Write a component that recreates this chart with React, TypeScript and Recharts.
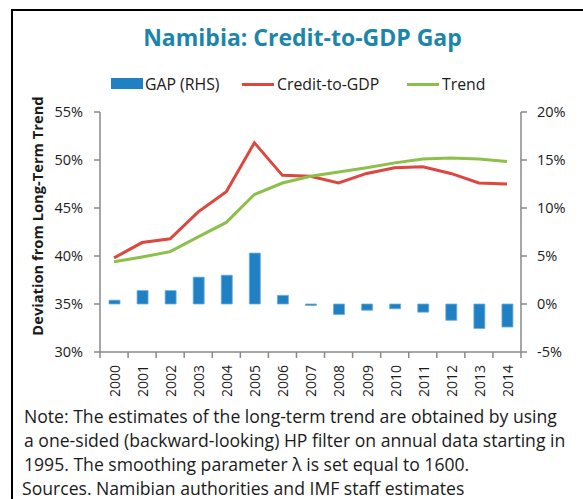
import React from 'react'
import { ComposedChart, Bar, Line, XAxis, YAxis, Cell } from 'recharts'

const years = ['2000', '2001', '2002', '2003', '2004', '2005', '2006', '2007', '2008', '2009', '2010', '2011', '2012', '2013', '2014']
const creditToGdp = [39.8, 41.4, 41.8, 44.6, 46.7, 51.8, 48.4, 48.3, 47.6, 48.6, 49.2, 49.3, 48.6, 47.6, 47.5]
const trend = [39.4, 39.9, 40.45, 42.0, 43.5, 46.4, 47.6, 48.3, 48.75, 49.2, 49.7, 50.1, 50.2, 50.1, 49.85]
const gap = [0.4, 1.4, 1.4, 2.8, 3.0, 5.3, 0.9, -0.15, -1.1, -0.65, -0.5, -0.85, -1.7, -2.55, -2.4]
const leftTicks = [30, 35, 40, 45, 50, 55]
const rightTicks = [-5, 0, 5, 10, 15, 20]
const noteLines = [
  'Note: The estimates of the long-term trend are obtained by using',
  'a one-sided (backward-looking) HP filter on annual data starting in',
  '1995. The smoothing parameter \u03bb is set equal to 1600.',
]
const sourceLine = 'Sources. Namibian authorities and IMF staff estimates'

const data = years.map((y, i) => ({ year: y, credit: creditToGdp[i], trend: trend[i], gap: gap[i] }))

const FONT = '"Open Sans", "Noto Sans", sans-serif'
const AXIS = '#898989'
const RED = '#DC4740'
const GREEN = '#8CC04A'
const BLUE = '#2080C4'
const INK = '#1a1a1a'

const W = 583
const PLOT_L = 100
const PLOT_R = 521
const BAND = (PLOT_R - PLOT_L) / years.length

const YearTick = (props: any) => {
  const { x, y, payload, index } = props
  const half = BAND / 2
  const ly = y + 13
  return (
    <g>
      <line x1={x - half} x2={x - half} y1={y} y2={y + 6} stroke={AXIS} strokeWidth={1.5} />
      {index === years.length - 1 && (
        <line x1={x + half} x2={x + half} y1={y} y2={y + 6} stroke={AXIS} strokeWidth={1.5} />
      )}
      <text
        x={x + 1}
        y={ly}
        dy="0.35em"
        transform={`rotate(-90, ${x + 1}, ${ly})`}
        textAnchor="end"
        fill={INK}
        fontSize={14}
        fontFamily={FONT}
      >
        {payload.value}
      </text>
    </g>
  )
}

const legendText = { position: 'absolute' as const, top: 0, lineHeight: '20px', fontSize: 15.8, color: INK, whiteSpace: 'nowrap' as const }

export default function App() {
  return (
    <div style={{ position: 'absolute', left: 0, top: 0, width: W, height: 499, background: '#fff', overflow: 'hidden', fontFamily: FONT }}>
      {/* frame */}
      <div style={{ position: 'absolute', left: 11, top: 9, width: 700, height: 700, borderLeft: '2px solid #000', borderTop: '2px solid #000' }} />

      <div style={{ position: 'absolute', left: 0, width: W, top: 22, textAlign: 'center', paddingLeft: 22, boxSizing: 'border-box', color: '#1B86AA', fontWeight: 700, fontSize: 23, lineHeight: '30px', whiteSpace: 'nowrap' }}>
        Namibia: Credit-to-GDP Gap
      </div>

      {/* legend */}
      <div style={{ position: 'absolute', top: 74, left: 0, width: W, height: 20 }}>
        <span style={{ position: 'absolute', left: 111, top: 4, width: 32, height: 11, background: BLUE }} />
        <span style={{ ...legendText, left: 145 }}>GAP (RHS)</span>
        <span style={{ position: 'absolute', left: 242, top: 9, width: 32, height: 3, background: RED }} />
        <span style={{ ...legendText, left: 277 }}>Credit-to-GDP</span>
        <span style={{ position: 'absolute', left: 407, top: 9, width: 32, height: 3, background: GREEN }} />
        <span style={{ ...legendText, left: 442 }}>Trend</span>
      </div>

      {/* y axis title */}
      <div style={{ position: 'absolute', left: 37, top: 216, width: 0, height: 0 }}>
        <div style={{ position: 'absolute', left: 0, top: 0, transform: 'translate(-50%, -50%) rotate(-90deg)', fontWeight: 700, fontSize: 14.7, color: INK, whiteSpace: 'nowrap' }}>
          Deviation from Long-Term Trend
        </div>
      </div>

      <div style={{ position: 'absolute', left: 0, top: 0 }}>
        <ComposedChart width={W} height={400} data={data} margin={{ top: 112, right: 6, bottom: 3, left: 40 }} barCategoryGap={0}>
          <XAxis
            dataKey="year"
            interval={0}
            tickLine={false}
            tickSize={0}
            tickMargin={0}
            height={45}
            axisLine={{ stroke: AXIS, strokeWidth: 1.5 }}
            tick={<YearTick />}
          />
          <YAxis
            yAxisId="left"
            domain={[30, 55]}
            ticks={leftTicks}
            interval={0}
            width={60}
            tickFormatter={(v: number) => `${v}%`}
            axisLine={{ stroke: AXIS, strokeWidth: 1.5 }}
            tickLine={{ stroke: AXIS, strokeWidth: 1.5 }}
            tickSize={6}
            tickMargin={11}
            tick={{ fill: INK, fontSize: 14.5, fontFamily: FONT }}
          />
          <YAxis
            yAxisId="right"
            orientation="right"
            domain={[-5, 20]}
            ticks={rightTicks}
            interval={0}
            width={56}
            tickFormatter={(v: number) => `${v}%`}
            axisLine={{ stroke: AXIS, strokeWidth: 1.5 }}
            tickLine={{ stroke: AXIS, strokeWidth: 1.5 }}
            tickSize={6}
            tickMargin={10}
            tick={{ fill: INK, fontSize: 14.5, fontFamily: FONT }}
          />
          <Bar yAxisId="right" dataKey="gap" barSize={11} fill={BLUE} stroke="#6FAEDD" strokeWidth={0.8} isAnimationActive={false}>
            {data.map((d, i) => (
              <Cell key={`c-${i}`} fill={BLUE} />
            ))}
          </Bar>
          <Line yAxisId="left" dataKey="credit" type="linear" stroke={RED} strokeWidth={3} dot={false} isAnimationActive={false} />
          <Line yAxisId="left" dataKey="trend" type="linear" stroke={GREEN} strokeWidth={3} dot={false} isAnimationActive={false} />
        </ComposedChart>
      </div>

      {/* notes */}
      <div style={{ position: 'absolute', left: 24, top: 404, fontSize: 17.6, lineHeight: '24px', color: INK, whiteSpace: 'nowrap' }}>
        {noteLines.map((l, i) => (
          <div key={i}>{l}</div>
        ))}
        <div style={{ marginLeft: -2 }}>{sourceLine}</div>
      </div>
    </div>
  )
}
